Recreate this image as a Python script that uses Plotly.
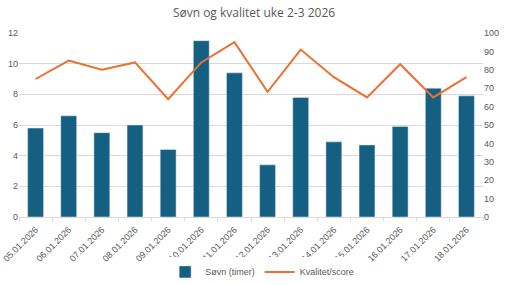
import plotly.graph_objects as go

dates = ["05.01.2026", "06.01.2026", "07.01.2026", "08.01.2026", "09.01.2026",
         "10.01.2026", "11.01.2026", "12.01.2026", "13.01.2026", "14.01.2026",
         "15.01.2026", "16.01.2026", "17.01.2026", "18.01.2026"]
sovn = [5.8, 6.6, 5.5, 6.0, 4.4, 11.5, 9.4, 3.4, 7.8, 4.9, 4.7, 5.9, 8.4, 7.9]
kvalitet = [75, 85, 80, 84, 64, 84, 95, 68, 91, 76, 65, 83, 65, 76]

fig = go.Figure()
fig.add_trace(go.Bar(x=dates, y=sovn, name="Søvn (timer)", marker_color="#156082",
                     yaxis="y"))
fig.add_trace(go.Scatter(x=dates, y=kvalitet, name="Kvalitet/score", mode="lines",
                         line=dict(color="#E97132", width=2), yaxis="y2"))

tickfont = dict(family="Liberation Sans, Arial, sans-serif", size=9, color="#595959")
fig.update_layout(
    width=508, height=285,
    margin=dict(l=19, r=25, t=33, b=68),
    paper_bgcolor="white", plot_bgcolor="white",
    title=dict(text="Søvn og kvalitet uke 2-3 2026", x=0.5, xanchor="center",
               yref="container", y=0.955, yanchor="middle",
               font=dict(family="Open Sans, sans-serif", size=12, color="#595959")),
    bargap=0.52,
    showlegend=True,
    legend=dict(orientation="h", x=0.524, xanchor="center",
                yref="container", y=0.046, yanchor="middle",
                font=dict(family="Liberation Sans, Arial, sans-serif", size=9, color="#595959"),
                itemwidth=30, tracegroupgap=0),
    xaxis=dict(tickangle=-45, tickfont=tickfont, showline=True, linecolor="#d9d9d9",
               showgrid=False, ticks="outside", ticklen=3, tickcolor="#d9d9d9",
               tickson="boundaries", automargin=False, ticklabelstandoff=3),
    yaxis=dict(range=[0, 12], dtick=2, tickfont=tickfont, gridcolor="#d9d9d9",
               zeroline=False, showline=False, automargin=False),
    yaxis2=dict(range=[0, 100], dtick=10, overlaying="y", side="right",
                tickfont=tickfont, showgrid=False, zeroline=False, showline=False,
                automargin=False),
)

fig.write_html("out.html")
